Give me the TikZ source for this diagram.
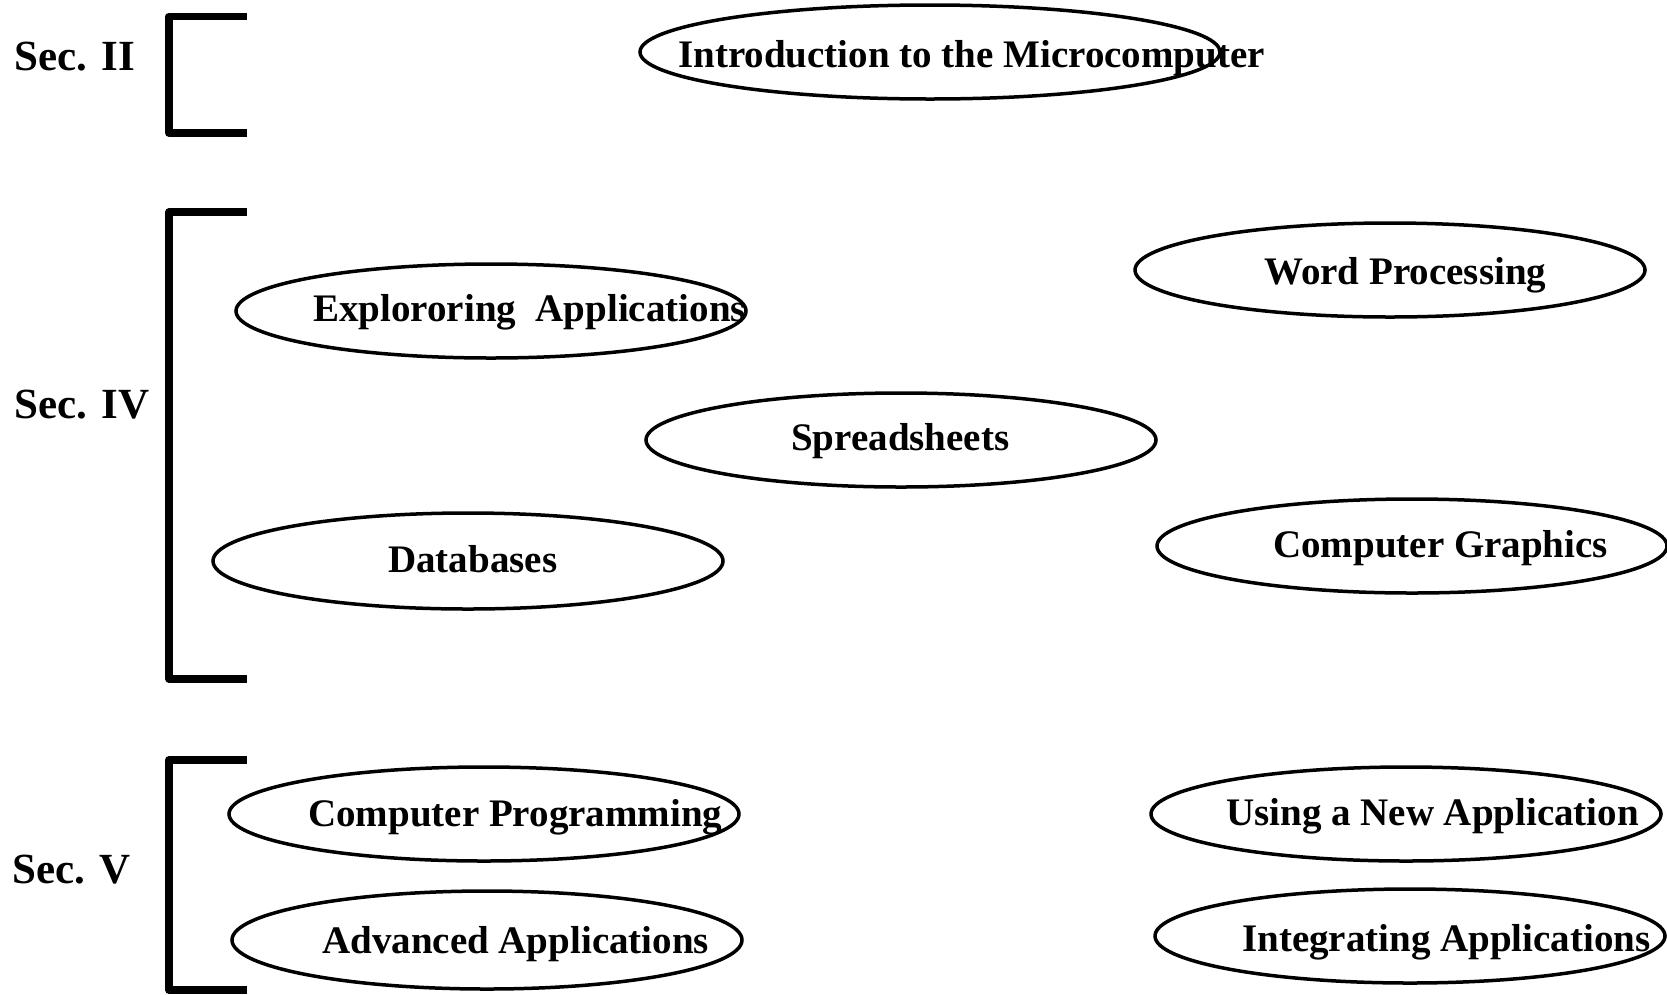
\documentclass[tikz,border=0pt]{standalone}
\usepackage{fontspec}
\setmainfont{Liberation Serif}
\usetikzlibrary{shapes.geometric}

\begin{document}
\begin{tikzpicture}[x=1pt, y=-1pt,
    topic/.style={draw, ellipse, line width=3.5pt, inner sep=0pt, minimum width=510pt, minimum height=94pt},
    topictext/.style={anchor=base west, inner sep=0pt, font=\bfseries\fontsize{39}{45}\selectfont},
    seclabel/.style={anchor=base west, inner sep=0pt, font=\bfseries\fontsize{43}{50}\selectfont},
    secbracket/.style={line width=7.5pt, line join=round}]
    \useasboundingbox (0,0) rectangle (1667,994);

    % Section labels and brackets
    \node[seclabel] (sec2) at (14,70) {Sec. II};
    \draw[secbracket] (247,16.5) -- (169,16.5) -- (169,133) -- (247,133);
    \node[seclabel] (sec4) at (14,418) {Sec. IV};
    \draw[secbracket] (247,212) -- (169,212) -- (169,679) -- (247,679);
    \node[seclabel] (sec5) at (12,883) {Sec. V};
    \draw[secbracket] (247,760) -- (169,760) -- (169,990) -- (247,990);

    % Sec. II topic
    \node[topic, minimum width=580pt] (intro) at (930,52) {};
    \node[topictext] (intro-t) at (678,67) {Introduction to the Microcomputer};

    % Sec. IV topics
    \node[topic] (explore) at (491,311) {};
    \node[topictext] (explore-t) at (313,321) {Explororing\ \ Applications};
    \node[topic] (word) at (1390,270) {};
    \node[topictext] (word-t) at (1264,284) {Word Processing};
    \node[topic] (spread) at (901,440) {};
    \node[topictext] (spread-t) at (791,450) {Spreadsheets};
    \node[topic, minimum height=96pt] (data) at (468,561) {};
    \node[topictext] (data-t) at (388,572) {Databases};
    \node[topic] (graph) at (1412,546) {};
    \node[topictext] (graph-t) at (1273,557) {Computer Graphics};

    % Sec. V topics
    \node[topic] (prog) at (484,814) {};
    \node[topictext] (prog-t) at (308,826) {Computer Programming};
    \node[topic, minimum height=98pt] (adv) at (487,940) {};
    \node[topictext] (adv-t) at (322,953) {Advanced Applications};
    \node[topic] (newapp) at (1406,814) {};
    \node[topictext] (newapp-t) at (1226,825) {Using a New Application};
    \node[topic] (integ) at (1410,936) {};
    \node[topictext] (integ-t) at (1242,951) {Integrating Applications};
\end{tikzpicture}
\end{document}
